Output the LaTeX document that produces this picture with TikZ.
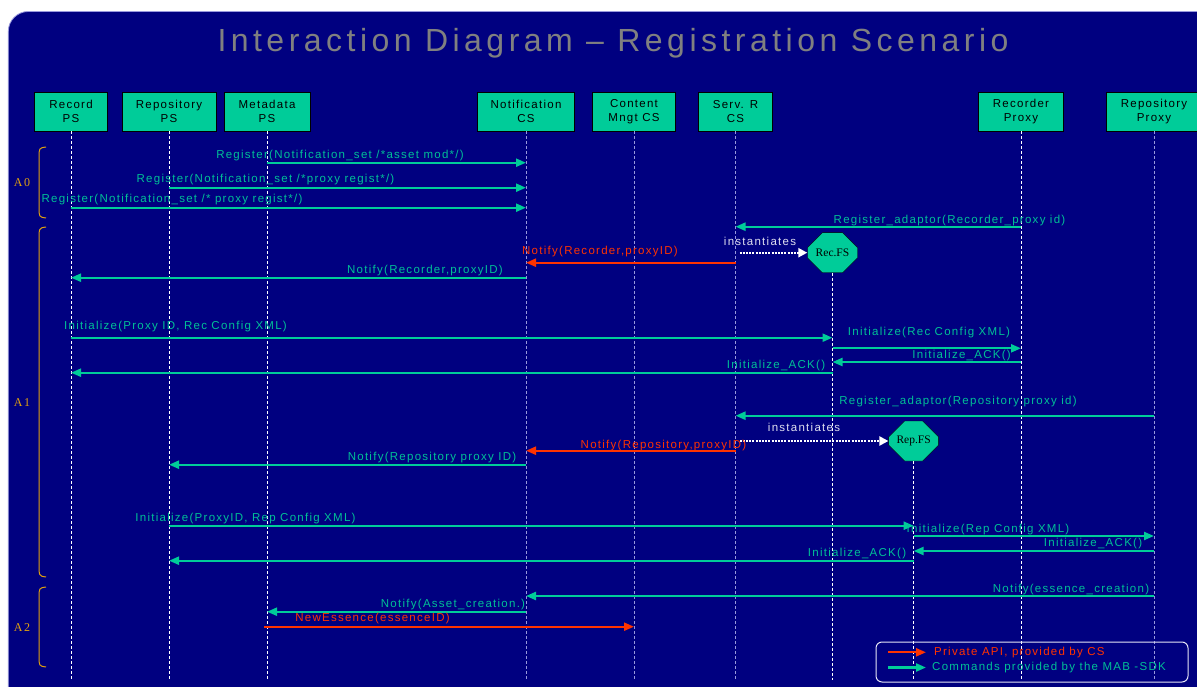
\documentclass[tikz,border=0pt]{standalone}
\usepackage{fontspec}
\setmainfont{Liberation Sans}
\newfontfamily\labelfamily[LetterSpace=11]{Liberation Sans}
\newfontfamily\titlefamily[LetterSpace=14]{Liberation Sans}
\newfontfamily\fsfamily{Liberation Serif}
\newfontfamily\phasefamily[LetterSpace=15]{Liberation Serif}
\usetikzlibrary{arrows.meta,shapes.misc}

\definecolor{navy}{HTML}{000080}
\definecolor{mabgreen}{HTML}{00CC99}
\definecolor{mabtext}{HTML}{00C096}
\definecolor{apired}{HTML}{FF3300}
\definecolor{bracegold}{HTML}{E0A010}
\definecolor{lavender}{HTML}{9999DD}
\definecolor{titlegray}{HTML}{808080}

\newcommand{\labelfont}{\labelfamily\fontsize{11.5}{14}\selectfont}

\tikzset{
    actor/.style={draw=black, fill=mabgreen, minimum height=39, inner sep=0, align=center, font=\labelfont},
    fs/.style={chamfered rectangle, chamfered rectangle xsep=14, chamfered rectangle ysep=11,
        draw=black, fill=mabgreen, minimum width=50, minimum height=40, inner sep=0,
        font=\fsfamily\fontsize{11.5}{14}\selectfont},
    lifeline/.style={draw=white, line width=0.8, dash pattern=on 3pt off 2pt},
    lifeline2/.style={draw=lavender, line width=1, dash pattern=on 3pt off 2pt},
    msg/.style={draw=mabgreen, line width=2.2, -{Triangle[length=10,width=8]}},
    private/.style={draw=apired, line width=2.2, -{Triangle[length=10,width=8]}},
    inst/.style={draw=white, line width=2.2, dash pattern=on 2pt off 1.2pt, -{Triangle[length=9,width=9]}},
    lbl/.style={font=\labelfont, text=mabtext, inner sep=0},
    redlbl/.style={font=\labelfont, text=apired, inner sep=0},
    phase/.style={draw=bracegold, line width=1},
    phaselbl/.style={font=\phasefamily\fontsize{12}{14}\selectfont, text=bracegold, inner sep=0}
}

\begin{document}
\begin{tikzpicture}[x=1pt,y=-1pt]
    \useasboundingbox (0,0) rectangle (1197,687);
    \fill[white] (0,0) rectangle (1197,687);
    \filldraw[fill=navy, draw=lavender, line width=0.8, rounded corners=20] (8.3,11.5) rectangle (1240,720);

    % title
    \node[font=\titlefamily\fontsize{32}{36}\selectfont, text=titlegray, inner sep=0] (title) at (613,43) {Interaction Diagram \textendash{} Registration Scenario};

    % actors
    \node[actor, minimum width=73] (recps) at (71,111.5) {Record\\PS};
    \node[actor, minimum width=94] (repps) at (169,111.5) {Repository\\PS};
    \node[actor, minimum width=86] (metaps) at (267,111.5) {Metadata\\PS};
    \node[actor, minimum width=97] (notcs) at (526,111.5) {Notification\\CS};
    \node[actor, minimum width=83] (cmcs) at (634,111.5) {Content\\Mngt CS};
    \node[actor, minimum width=74] (servr) at (735.5,111.5) {Serv. R\\CS};
    \node[actor, minimum width=85] (recpx) at (1021,111.5) {Recorder\\Proxy};
    \node[actor, minimum width=96] (reppx) at (1154,111.5) {Repository\\Proxy};

    \node[fs] (recfs) at (832.5,252.7) {Rec.FS};
    \node[fs] (repfs) at (913.6,441) {Rep.FS};

    % lifelines
    \draw[lifeline] (recps.south) -- (recps |- 0,680);
    \draw[lifeline] (repps.south) -- (repps |- 0,680);
    \draw[lifeline] (metaps.south) -- (metaps |- 0,680);
    \draw[lifeline2] (notcs.south) -- (notcs |- 0,680);
    \draw[lifeline2] (cmcs.south) -- (cmcs |- 0,680);
    \draw[lifeline2] (servr.south) -- (servr |- 0,680);
    \draw[lifeline] (recpx.south) -- (recpx |- 0,680);
    \draw[lifeline2] (reppx.south) -- (reppx |- 0,680);
    \draw[lifeline] (recfs.south) -- (recfs |- 0,680);
    \draw[lifeline] (repfs.south) -- (repfs |- 0,680);

    % phases
    \draw[phase] (46,147) .. controls (39,148) .. (39,158) -- (39,207) .. controls (39,217) .. (46,218);
    \draw[phase] (46,227) .. controls (39,228) .. (39,240) -- (39,564) .. controls (39,576) .. (46,577);
    \draw[phase] (46,587) .. controls (39,588) .. (39,598) -- (39,656) .. controls (39,666) .. (46,667);
    \node[phaselbl] (a0) at (22,183) {A0};
    \node[phaselbl] (a1) at (22,403) {A1};
    \node[phaselbl] (a2) at (22,628) {A2};

    % A0
    \draw[msg] (metaps |- 0,162.7) -- (notcs |- 0,162.7);
    \node[lbl] (m1) at (340,156) {Register(Notification\_set /*asset mod*/)};
    \draw[msg] (repps |- 0,187.7) -- (notcs |- 0,187.7);
    \node[lbl] (m2) at (265.5,180) {Register(Notification\_set /*proxy regist*/)};
    \draw[msg] (recps |- 0,207.7) -- (notcs |- 0,207.7);
    \node[lbl] (m3) at (172,200) {Register(Notification\_set /* proxy regist*/)};

    % A1, recorder
    \draw[msg] (recpx |- 0,226.7) -- (servr |- 0,226.7);
    \node[lbl] (m4) at (949.5,221) {Register\_adaptor(Recorder\_proxy id)};
    \draw[inst] ([xshift=4]servr |- recfs.west) -- (recfs.west);
    \node[lbl, text=white!88!navy] (m5) at (760,241) {instantiates};
    \draw[private] (servr |- 0,262.7) -- (notcs |- 0,262.7);
    \node[redlbl] (m6) at (600,251.7) {Notify(Recorder,proxyID)};
    \draw[msg] (notcs |- 0,277.7) -- (recps |- 0,277.7);
    \node[lbl] (m7) at (425,271) {Notify(Recorder,proxyID)};

    \draw[msg] (recps |- 0,337.7) -- (recfs |- 0,337.7);
    \node[lbl] (m8) at (175.5,326.7) {Initialize(Proxy ID, Rec Config XML)};
    \draw[msg] (recfs |- 0,348.3) -- (recpx |- 0,348.3);
    \node[lbl] (m9) at (929,332.3) {Initialize(Rec Config XML)};
    \draw[msg] (recpx |- 0,362) -- (recfs |- 0,362);
    \node[lbl] (m10) at (961.6,356) {Initialize\_ACK()};
    \draw[msg] (recfs |- 0,372.7) -- (recps |- 0,372.7);
    \node[lbl] (m11) at (776,365.7) {Initialize\_ACK()};

    % A1, repository
    \draw[msg] (reppx |- 0,415.7) -- (servr |- 0,415.7);
    \node[lbl] (m12) at (958,401.7) {Register\_adaptor(Repository proxy id)};
    \draw[inst] ([xshift=4]servr |- repfs.west) -- (repfs.west);
    \node[lbl, text=white!88!navy] (m13) at (804,427) {instantiates};
    \draw[private] (servr |- 0,450.7) -- (notcs |- 0,450.7);
    \node[redlbl] (m14) at (663.5,445.3) {Notify(Repository,proxyID)};
    \draw[msg] (notcs |- 0,464.7) -- (repps |- 0,464.7);
    \node[lbl] (m15) at (432,457.7) {Notify(Repository proxy ID)};

    \draw[msg] (repps |- 0,525.7) -- (repfs |- 0,525.7);
    \node[lbl] (m16) at (245.5,519) {Initialize(ProxyID, Rep Config XML)};
    \draw[msg] (repfs |- 0,536) -- (reppx |- 0,536);
    \node[lbl] (m17) at (988,530) {Initialize(Rep Config XML)};
    \draw[msg] (reppx |- 0,551) -- (repfs |- 0,551);
    \node[lbl] (m18) at (1093,543.3) {Initialize\_ACK()};
    \draw[msg] (repfs |- 0,560.7) -- (repps |- 0,560.7);
    \node[lbl] (m19) at (857,553.3) {Initialize\_ACK()};

    % A2
    \draw[msg] (reppx |- 0,596) -- (notcs |- 0,596);
    \node[lbl] (m20) at (1071,590) {Notify(essence\_creation)};
    \draw[msg] (notcs |- 0,611.7) -- (metaps |- 0,611.7);
    \node[lbl] (m21) at (453,605) {Notify(Asset\_creation.)};
    \draw[private] ([xshift=-3]metaps |- 0,626.7) -- (cmcs |- 0,626.7);
    \node[redlbl] (m22) at (372.5,619) {NewEssence(essenceID)};

    % legend
    \draw[draw=white!75!lavender, line width=1, rounded corners=6] (876,642) rectangle (1188,682);
    \node[redlbl, anchor=west] (key1) at (934,652.3) {Private API, provided by CS};
    \node[lbl, anchor=west] (key2) at (932,667.5) {Commands provided by the MAB -SDK};
    \draw[private] ([xshift=-46]key1.west) -- ([xshift=-8]key1.west);
    \draw[msg] ([xshift=-44]key2.west) -- ([xshift=-6]key2.west);
\end{tikzpicture}
\end{document}
